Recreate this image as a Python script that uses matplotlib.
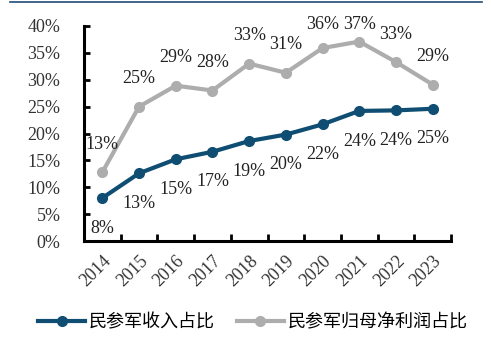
import numpy as np
import matplotlib.pyplot as plt
from matplotlib.lines import Line2D
from matplotlib.ticker import FixedLocator

plt.rcParams['font.family'] = ['Liberation Serif', 'Noto Sans CJK SC', 'DejaVu Sans']

years = ['2014', '2015', '2016', '2017', '2018', '2019', '2020', '2021', '2022', '2023']
revenue_share = [8.0, 12.6, 15.2, 16.6, 18.6, 19.8, 21.7, 24.2, 24.3, 24.6]
profit_share = [12.8, 25.0, 28.9, 28.0, 33.0, 31.3, 35.9, 37.1, 33.3, 29.1]
series_names = ['民参军收入占比', '民参军归母净利润占比']

blue = '#0f4e72'
grey = '#adadad'

fig = plt.figure(figsize=(4.91, 3.39), dpi=100)
ax = fig.add_axes([84 / 491, 1 - 241 / 339, (451 - 84) / 491, (241 - 26) / 339])

x = np.arange(len(years))
ax.plot(x, revenue_share, color=blue, lw=3, marker='o', ms=7, zorder=3)
ax.plot(x, profit_share, color=grey, lw=3, marker='o', ms=7, zorder=3)

# data labels: below the blue line, above the grey one (kept inside the plot top)
for xi, v in zip(x, revenue_share):
    ax.text(xi, v - 5.6, f'{round(v):d}%', ha='center', va='center', fontsize=13, color='#222222')
for xi, v in zip(x, profit_share):
    ax.text(xi, min(v + 5.2, 40.2), f'{round(v):d}%', ha='center', va='center', fontsize=13,
            color='#222222')

ax.set_xlim(-0.5, len(years) - 0.5)
ax.set_ylim(0, 40)
ax.set_yticks(np.arange(0, 41, 5))
ax.set_yticklabels([f'{v}%' for v in range(0, 41, 5)], fontsize=13, color='#333333')
ax.set_xticks(x)
ax.set_xticklabels(years, rotation=45, ha='right', rotation_mode='anchor', fontsize=13, color='#333333')
ax.xaxis.set_minor_locator(FixedLocator(np.arange(-0.5, len(years), 1.0)))
ax.tick_params(axis='x', which='major', length=0, pad=8)
ax.tick_params(axis='x', which='minor', direction='in', length=5, width=2)
ax.tick_params(axis='y', direction='in', length=4, width=2, pad=17)
for s in ['top', 'right']:
    ax.spines[s].set_visible(False)
for s in ['left', 'bottom']:
    ax.spines[s].set_linewidth(2.2)

handles = [Line2D([], [], color=blue, lw=3, marker='o', ms=7),
           Line2D([], [], color=grey, lw=3, marker='o', ms=7)]
fig.legend(handles, series_names, loc='center', bbox_to_anchor=(0.515, 1 - 322 / 339), ncol=2,
           frameon=False, handlelength=2.6, handletextpad=0.2, columnspacing=1.2,
           prop={'family': ['Noto Sans CJK SC'], 'size': 13})

fig.add_artist(Line2D([10 / 491, 482 / 491], [1 - 2 / 339, 1 - 2 / 339], color='#1f4e79', lw=1.2))

fig.savefig('out.png', dpi=100)
